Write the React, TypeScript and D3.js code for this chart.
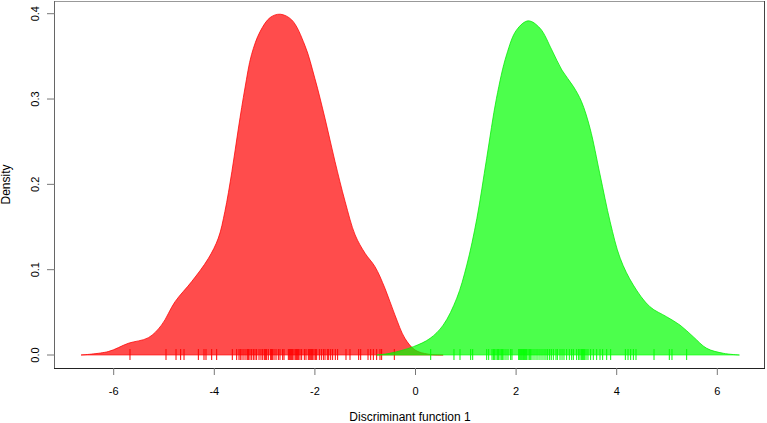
import React from "react";
import * as d3 from "d3";

// Density curve of group 1 (red): [value, density]
const redX = [-6.65, -6.11, -5.71, -5.31, -5.05, -4.78, -4.45, -4.12, -3.92, -3.79, -3.65, -3.52, -3.39, -3.26, -3.09, -2.89, -2.69, -2.46, -2.2, -2.0, -1.8, -1.6, -1.4, -1.2, -1.0, -0.805, -0.606, -0.41, -0.21, -0.01, 0.25, 0.55];
const redY = [0, 0.004, 0.0137, 0.0203, 0.035, 0.0625, 0.086, 0.113, 0.137, 0.168, 0.215, 0.266, 0.313, 0.352, 0.379, 0.3955, 0.3994, 0.3927, 0.363, 0.324, 0.2775, 0.2266, 0.18, 0.1407, 0.119, 0.1035, 0.078, 0.047, 0.0195, 0.0059, 0.001, 0];

// Density curve of group 2 (green)
const greenX = [-0.77, -0.51, -0.04, 0.29, 0.55, 0.82, 1.02, 1.22, 1.415, 1.61, 1.81, 2.01, 2.24, 2.475, 2.71, 2.91, 3.14, 3.3, 3.47, 3.67, 3.87, 4.07, 4.33, 4.66, 4.99, 5.26, 5.52, 5.79, 6.12, 6.44];
const greenY = [0, 0.002, 0.0098, 0.0195, 0.035, 0.0665, 0.1055, 0.16, 0.2306, 0.301, 0.3517, 0.381, 0.3916, 0.383, 0.3576, 0.334, 0.3146, 0.297, 0.2657, 0.211, 0.156, 0.1133, 0.082, 0.0566, 0.0449, 0.035, 0.0215, 0.0078, 0.002, 0];

// Rug observations
const redRug = [-5.676, -4.96, -4.761, -4.669, -4.602, -4.317, -4.205, -4.165, -4.052, -3.953, -3.642, -3.555, -3.509, -3.483, -3.449, -3.41, -3.37, -3.337, -3.317, -3.29, -3.257, -3.224, -3.191, -3.158, -3.111, -3.072, -3.038, -3.005, -2.979, -2.959, -2.926, -2.879, -2.866, -2.846, -2.813, -2.773, -2.727, -2.694, -2.641, -2.614, -2.528, -2.508, -2.482, -2.462, -2.442, -2.416, -2.389, -2.363, -2.349, -2.323, -2.296, -2.263, -2.21, -2.177, -2.131, -2.111, -2.084, -2.064, -2.044, -2.018, -1.991, -1.965, -1.912, -1.872, -1.832, -1.799, -1.753, -1.726, -1.686, -1.647, -1.594, -1.548, -1.382, -1.302, -1.13, -1.09, -0.944, -0.891, -0.838, -0.772, -0.706, -0.673, -0.421];
const greenRug = [0.302, 0.765, 0.885, 1.097, 1.137, 1.415, 1.455, 1.521, 1.547, 1.567, 1.6, 1.627, 1.653, 1.68, 1.706, 1.733, 1.759, 1.799, 1.839, 1.892, 1.918, 2.051, 2.071, 2.091, 2.111, 2.131, 2.15, 2.17, 2.19, 2.21, 2.237, 2.263, 2.29, 2.316, 2.356, 2.396, 2.435, 2.475, 2.515, 2.555, 2.594, 2.628, 2.667, 2.7, 2.74, 2.793, 2.82, 2.873, 2.913, 2.952, 3.005, 3.058, 3.105, 3.138, 3.204, 3.244, 3.27, 3.297, 3.317, 3.337, 3.363, 3.39, 3.429, 3.482, 3.535, 3.602, 3.668, 3.721, 3.801, 3.88, 4.172, 4.225, 4.278, 4.331, 4.384, 4.742, 5.046, 5.099, 5.391];

const xTicks = [-6, -4, -2, 0, 2, 4, 6];
const yTicks = [0, 0.1, 0.2, 0.3, 0.4];

const W = 767;
const H = 423;
const box = { left: 55, top: 1, right: 765, bottom: 368 };
const FONT = "'Liberation Sans', Arial, Helvetica, sans-serif";

export default function App() {
  const x = d3.scaleLinear().domain([0, 1]).range([415.5, 465.8]);
  const y = d3.scaleLinear().domain([0, 0.4]).range([355, 13.7]);

  const curve = d3.curveCatmullRom.alpha(0.5);
  const area = d3
    .area<[number, number]>()
    .x((d) => x(d[0]))
    .y0(y(0))
    .y1((d) => Math.min(y(0), y(d[1])))
    .curve(curve);
  const line = d3
    .line<[number, number]>()
    .x((d) => x(d[0]))
    .y((d) => y(d[1]))
    .curve(curve);

  const redPts: [number, number][] = redX.map((v, i) => [v, redY[i]]);
  const greenPts: [number, number][] = greenX.map((v, i) => [v, greenY[i]]);

  const rugTop = y(0) - 6;
  const rugBot = y(0) + 5;

  return (
    <svg
      width={W}
      height={H}
      style={{ position: "absolute", left: 0, top: 0, background: "#fff" }}
      fontFamily={FONT}
    >
      <rect x={0} y={0} width={W} height={H} fill="#fff" />
      {/* red density */}
      <path d={area(redPts) || ""} fill="rgba(255,0,0,0.7)" />
      <path d={line(redPts) || ""} fill="none" stroke="rgba(255,0,0,0.75)" strokeWidth={1} />
      <line x1={x(redX[0])} x2={x(redX[redX.length - 1])} y1={y(0)} y2={y(0)} stroke="rgba(255,0,0,0.6)" strokeWidth={1} />
      {redRug.map((v, i) => (
        <line key={"r" + i} x1={x(v)} x2={x(v)} y1={rugTop} y2={rugBot} stroke="#ff0000" strokeWidth={1} />
      ))}
      {/* green density */}
      <path d={area(greenPts) || ""} fill="rgba(0,255,0,0.7)" />
      <path d={line(greenPts) || ""} fill="none" stroke="rgba(0,235,0,0.75)" strokeWidth={1} />
      <line x1={x(greenX[0])} x2={x(greenX[greenX.length - 1])} y1={y(0)} y2={y(0)} stroke="rgba(0,255,0,0.6)" strokeWidth={1} />
      {greenRug.map((v, i) => (
        <line key={"g" + i} x1={x(v)} x2={x(v)} y1={rugTop} y2={rugBot} stroke="#00ff00" strokeWidth={1} />
      ))}

      {/* box */}
      <line x1={box.left} x2={box.right} y1={box.top + 0.5} y2={box.top + 0.5} stroke="#999" />
      <line x1={box.left - 0.5} x2={box.left - 0.5} y1={box.top} y2={box.bottom} stroke="#666" />
      <line x1={box.right - 0.5} x2={box.right - 0.5} y1={box.top} y2={box.bottom} stroke="#444" />
      <line x1={box.left - 1} x2={box.right} y1={box.bottom + 0.5} y2={box.bottom + 0.5} stroke="#222" />

      {/* x axis */}
      {xTicks.map((t) => (
        <g key={"xt" + t}>
          <line x1={x(t)} x2={x(t)} y1={box.bottom} y2={box.bottom + 7} stroke="#777" />
          <text x={x(t)} y={395} fontSize={11} textAnchor="middle" fill="#000">
            {t}
          </text>
        </g>
      ))}
      {/* y axis */}
      {yTicks.map((t) => (
        <g key={"yt" + t}>
          <line x1={box.left - 8} x2={box.left} y1={y(t)} y2={y(t)} stroke="#777" />
          <text
            transform={`translate(38.5,${y(t)}) rotate(-90)`}
            fontSize={11}
            textAnchor="middle"
            fill="#000"
          >
            {t.toFixed(1)}
          </text>
        </g>
      ))}
      <text x={(box.left + box.right) / 2} y={421} fontSize={12} textAnchor="middle" fill="#000">
        Discriminant function 1
      </text>
      <text
        transform={`translate(10,${(box.top + box.bottom) / 2}) rotate(-90)`}
        fontSize={12}
        textAnchor="middle"
        fill="#000"
      >
        Density
      </text>
    </svg>
  );
}
